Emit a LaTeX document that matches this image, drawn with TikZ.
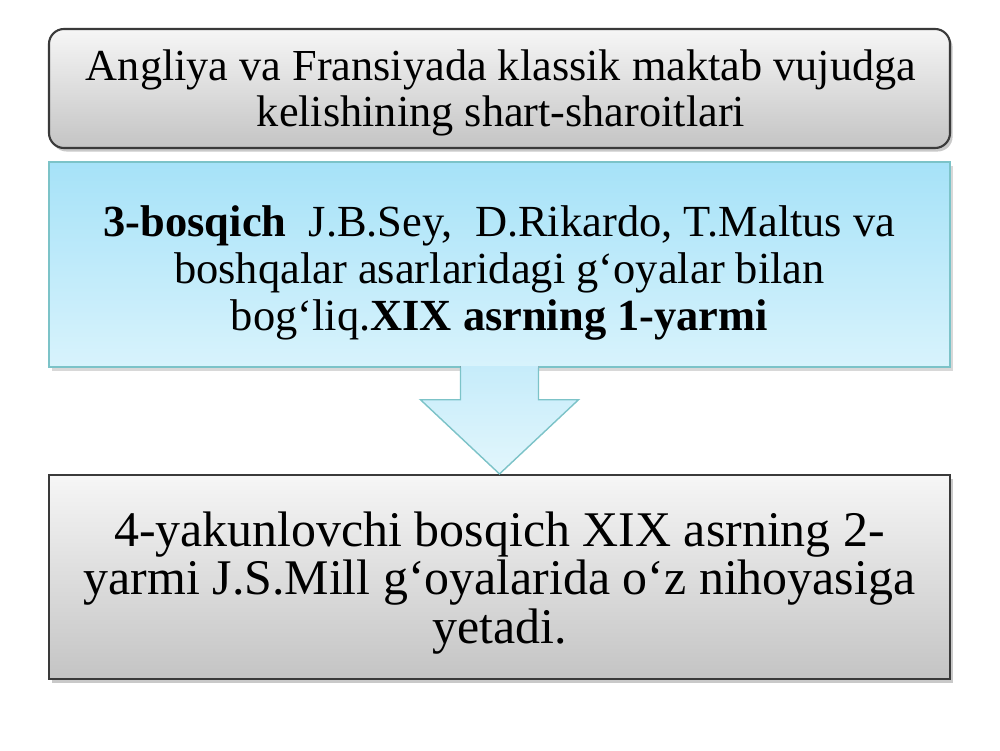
\documentclass[tikz,border=0pt]{standalone}
\usepackage{fontspec}
\setmainfont{Liberation Serif}
\usetikzlibrary{shadows,calc}
\definecolor{boxline}{HTML}{3A3A3A}
\definecolor{graytop}{HTML}{F6F6F6}
\definecolor{graybot}{HTML}{C4C4C4}
\definecolor{bluetop}{HTML}{A6E2F8}
\definecolor{bluebot}{HTML}{D8F3FC}
\definecolor{blueline}{HTML}{7CC3C8}
\definecolor{arrtop}{HTML}{C6ECFA}
\definecolor{arrbot}{HTML}{E2F6FC}
\tikzset{
  graybox/.style={draw=boxline, line width=1.2pt, top color=graytop, bottom color=graybot,
    minimum width=18.02cm, inner sep=0pt,
    drop shadow={shadow xshift=1.5pt, shadow yshift=-2pt, opacity=0.35, fill=black!60}},
  bluebox/.style={draw=blueline, line width=0.8pt, top color=bluetop, bottom color=bluebot,
    minimum width=18.02cm, inner sep=0pt,
    drop shadow={shadow xshift=1.5pt, shadow yshift=-2pt, opacity=0.3, fill=black!50}},
  arrowfill/.style={top color=arrtop, bottom color=arrbot, draw=none},
  arrowedge/.style={draw=blueline, line width=0.8pt, line join=miter},
  toptext/.style={align=center, inner sep=0pt, font=\fontsize{25.2}{26.5}\selectfont},
  midtext/.style={align=center, inner sep=0pt, font=\fontsize{25.3}{26.5}\selectfont},
  bottext/.style={align=center, inner sep=0pt, font=\fontsize{28.4}{27.8}\selectfont}
}
\begin{document}
\begin{tikzpicture}
\useasboundingbox (0,0) rectangle (20,-15);
\fill[white] (0,0) rectangle (20,-15);
\node[graybox, rounded corners=0.3cm, minimum height=2.38cm] (top) at (9.99,-1.77) {};
\node[toptext] (toptxt) at (10.02,-1.86)
  {Angliya va Fransiyada klassik maktab vujudga\\kelishining shart-sharoitlari};
\node[bluebox, minimum height=4.10cm] (mid) at (9.99,-5.29) {};
\node[midtext] (midtxt) at (9.99,-5.46)
  {\textbf{3-bosqich}\ \ J.B.Sey,\ \ D.Rikardo, T.Maltus va\\boshqalar asarlaridagi g‘oyalar bilan\\bog‘liq.\textbf{XIX asrning 1-yarmi}};
\node[graybox, minimum height=4.08cm] (bot) at (9.99,-11.54) {};
\node[bottext] (bottxt) at (9.99,-11.66)
  {4-yakunlovchi bosqich XIX asrning 2-\\yarmi J.S.Mill g‘oyalarida o‘z nihoyasiga\\yetadi.};
% block arrow
\coordinate (a1) at ($(mid.south)+(-0.78,0.03)$);
\coordinate (a2) at ($(mid.south)+(-0.78,-0.64)$);
\coordinate (a3) at ($(mid.south)+(-1.58,-0.64)$);
\coordinate (a4) at (bot.north);
\coordinate (a5) at ($(mid.south)+(1.58,-0.64)$);
\coordinate (a6) at ($(mid.south)+(0.78,-0.64)$);
\coordinate (a7) at ($(mid.south)+(0.78,0.03)$);
\fill[arrowfill] (a1) -- (a2) -- (a3) -- (a4) -- (a5) -- (a6) -- (a7) -- cycle;
\draw[arrowedge] ($(a1)+(0,-0.03)$) -- (a2) -- (a3) -- (a4) -- (a5) -- (a6) -- ($(a7)+(0,-0.03)$);
\end{tikzpicture}
\end{document}
